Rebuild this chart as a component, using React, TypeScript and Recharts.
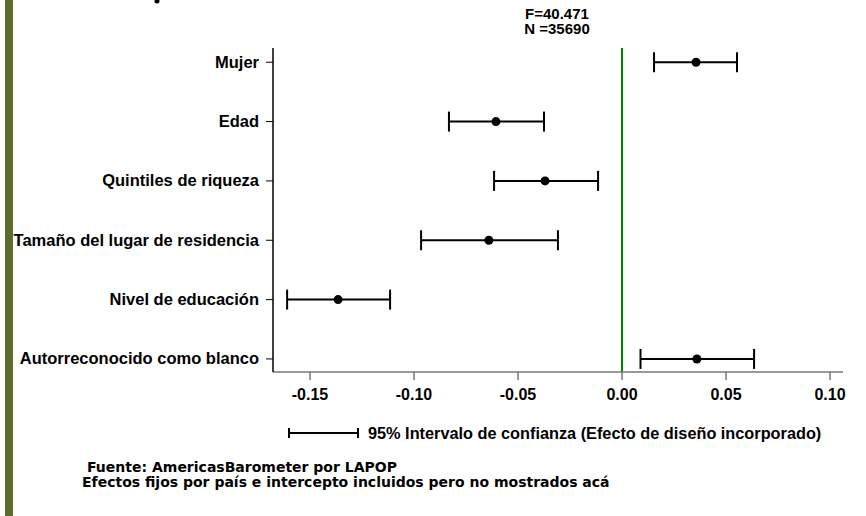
import React from 'react';
import { ScatterChart, Scatter, XAxis, YAxis, ErrorBar, ReferenceLine } from 'recharts';

const categories = [
  'Mujer',
  'Edad',
  'Quintiles de riqueza',
  'Tamaño del lugar de residencia',
  'Nivel de educación',
  'Autorreconocido como blanco',
];
const coef = [0.0356, -0.0606, -0.037, -0.064, -0.1365, 0.036];
const lower = [0.0154, -0.0832, -0.0615, -0.0966, -0.161, 0.0089];
const upper = [0.0553, -0.0375, -0.0115, -0.0308, -0.1115, 0.0635];
const xTicks = [-0.15, -0.1, -0.05, 0, 0.05, 0.1];
const yTicks = [1, 2, 3, 4, 5, 6];

const data = categories.map((c, i) => ({
  name: c,
  x: coef[i],
  y: categories.length - i,
  err: [coef[i] - lower[i], upper[i] - coef[i]],
}));

const FONT = '"Liberation Sans", Arial, Helvetica, sans-serif';
const FOOT_FONT = '"DejaVu Sans", Verdana, sans-serif';

const labelFor = (v: number) => categories[categories.length - v] ?? '';

const YTick = (props: any) => {
  const { x, y, payload } = props;
  return (
    <text x={x} y={y} dy={5.5} textAnchor="end" fontFamily={FONT} fontWeight="bold" fontSize={16.5} fill="#000">
      {labelFor(payload.value)}
    </text>
  );
};

const XTick = (props: any) => {
  const { x, y, payload } = props;
  return (
    <text x={x} y={y} dy={12} textAnchor="middle" fontFamily={FONT} fontWeight="bold" fontSize={16} fill="#000">
      {Number(payload.value).toFixed(2)}
    </text>
  );
};

export default function App() {
  return (
    <div style={{ position: 'absolute', left: 0, top: 0, width: 866, height: 516, background: '#fff', fontFamily: FONT }}>
      <ScatterChart width={866} height={516} margin={{ top: 48, right: 23, bottom: 104, left: 0 }}>
        <XAxis
          type="number"
          dataKey="x"
          domain={[-0.16779, 0.10625]}
          ticks={xTicks}
          allowDataOverflow
          height={40}
          tickSize={8}
          tickMargin={8}
          axisLine={{ stroke: '#777', strokeWidth: 1.5 }}
          tickLine={{ stroke: '#777', strokeWidth: 1.5 }}
          tick={<XTick />}
        />
        <YAxis
          type="number"
          dataKey="y"
          domain={[0.78, 6.24]}
          ticks={yTicks}
          allowDataOverflow
          width={273}
          tickSize={7}
          tickMargin={7}
          axisLine={{ stroke: '#000', strokeWidth: 1.5 }}
          tickLine={{ stroke: '#000', strokeWidth: 1 }}
          tick={<YTick />}
        />
        <ReferenceLine x={0} stroke="#008000" strokeWidth={2} />
        <Scatter data={data} fill="#000" isAnimationActive={false} shape={(p: any) => <circle cx={p.cx} cy={p.cy} r={4.5} fill="#000" />}>
          <ErrorBar dataKey="err" direction="x" width={10} stroke="#000" strokeWidth={2} isAnimationActive={false} />
        </Scatter>
      </ScatterChart>
      <svg width={866} height={516} style={{ position: 'absolute', left: 0, top: 0, pointerEvents: 'none' }}>
        <rect x={5} y={0} width={8} height={516} fill="#5a6e2e" />
        <circle cx={157} cy={1} r={2.5} fill="#000" />
        <g fontFamily={FONT} fontWeight="bold" fontSize={15} fill="#000" textAnchor="middle">
          <text x={557} y={18.5}>F=40.471</text>
          <text x={557} y={34}>N =35690</text>
        </g>
        <g stroke="#000" strokeWidth={2}>
          <line x1={289} y1={433} x2={358} y2={433} />
          <line x1={289} y1={428} x2={289} y2={438} />
          <line x1={358} y1={428} x2={358} y2={438} />
        </g>
        <text x={368} y={439} fontFamily={FONT} fontWeight="bold" fontSize={16.3} fill="#000">
          95% Intervalo de confianza (Efecto de diseño incorporado)
        </text>
        <g fontFamily={FOOT_FONT} fontWeight="bold" fontSize={14} fill="#000">
          <text x={87} y={472}>Fuente: AmericasBarometer por LAPOP</text>
          <text x={82} y={487}>Efectos fijos por país e intercepto incluidos pero no mostrados acá</text>
        </g>
      </svg>
    </div>
  );
}
